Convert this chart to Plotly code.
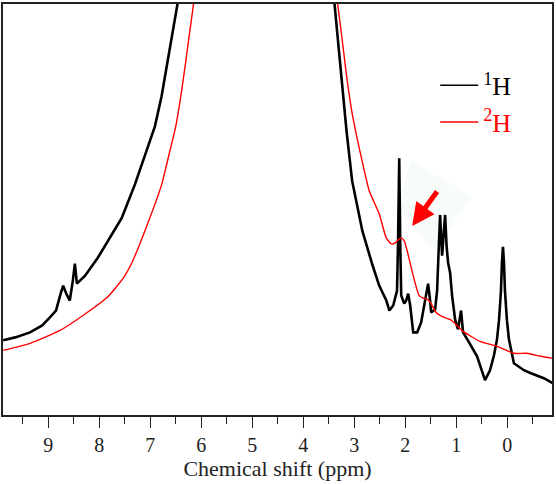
import plotly.graph_objects as go

# ---- data (chemical shift in ppm, intensity in arbitrary units) ----
h1_ppm = [9.886, 9.65, 9.36, 9.12, 8.97, 8.85, 8.77, 8.71, 8.65, 8.58, 8.52, 8.48, 8.44,
          8.28, 8.03, 7.83, 7.56, 7.30, 7.07, 6.91, 6.78, 6.66, 6.54, 6.46, 6.38,
          5.0, 4.0, 3.49, 3.39, 3.25, 3.15, 3.04, 2.84, 2.65, 2.51, 2.37, 2.31, 2.235,
          2.18, 2.16, 2.14, 2.117, 2.095, 2.078, 2.019, 1.980, 1.941, 1.902, 1.843,
          1.765, 1.687, 1.608, 1.550, 1.511, 1.491, 1.413, 1.374, 1.344, 1.315, 1.276,
          1.217, 1.188, 1.158, 1.119, 1.080, 1.021, 0.963, 0.904, 0.865, 0.747, 0.591,
          0.434, 0.336, 0.258, 0.199, 0.160, 0.121, 0.102, 0.082, 0.062, 0.043, 0.004,
          -0.035, -0.133, -0.329, -0.466, -0.720, -0.896]
h1_int = [75, 78, 83, 90, 98, 105, 120, 130, 122, 115, 135, 152, 132,
          140, 158, 175, 198, 232, 265, 290, 320, 355, 390, 415, 445,
          900, 900, 460, 415, 335, 285, 235, 185, 152, 130, 115, 105, 110,
          122, 125, 175, 258, 165, 120, 112, 115, 122, 110, 83,
          83, 93, 115, 132, 115, 103, 106, 125, 165, 201, 160,
          201, 170, 153, 143, 120, 96, 86, 105, 83, 73, 59,
          35, 45, 60, 76, 95, 125, 153, 169, 153, 125, 95,
          76, 52, 45, 42, 37, 32]

h2_ppm = [9.886, 9.358, 8.771, 8.321, 7.851, 7.538, 7.362, 7.010, 6.775, 6.618, 6.501,
          6.403, 6.305, 6.227, 6.168, 6.090, 5.0, 4.0, 3.428, 3.331, 3.135, 3.037, 2.900,
          2.704, 2.509, 2.372, 2.274, 2.196, 2.137, 2.078, 2.019, 1.961, 1.843, 1.726,
          1.628, 1.550, 1.471, 1.393, 1.237, 1.119, 0.982, 0.865, 0.532, 0.199, -0.133,
          -0.388, -0.662, -0.896]
h2_int = [65, 72, 85, 100, 118, 137, 153, 198, 232, 265, 290,
          320, 355, 385, 407, 440, 900, 900, 440, 415, 335, 302, 268,
          225, 202, 178, 172, 173, 176, 178, 175, 165, 140, 120,
          117, 116, 110, 103, 98, 96, 90, 84, 74, 69, 62,
          62, 59, 57]

tick_vals = [9, 8, 7, 6, 5, 4, 3, 2, 1, 0]
tick_text = ["9", "8", "7", "6", "5", "4", "3", "2", "1", "0"]

# arrow (data coordinates): tail -> head
arrow_tail = (1.354, 226)
arrow_head = (1.863, 190)

serif = "Liberation Serif, Times New Roman, serif"

fig = go.Figure()
fig.add_trace(go.Scatter(x=h1_ppm, y=h1_int, mode="lines", showlegend=False,
                         line=dict(color="black", width=2.6)))
fig.add_trace(go.Scatter(x=h2_ppm, y=h2_int, mode="lines", showlegend=False,
                         line=dict(color="red", width=1.4, shape="spline", smoothing=0.5)))
# legend entries
fig.add_trace(go.Scatter(x=[None], y=[None], mode="lines",
                         name="<span style='color:black'><sup>1</sup>H</span>",
                         line=dict(color="black", width=1.5)))
fig.add_trace(go.Scatter(x=[None], y=[None], mode="lines",
                         name="<span style='color:red'><sup>2</sup>H</span>",
                         line=dict(color="red", width=1.5)))

# very faint highlight behind arrow
def pp(px, py):
    return ((px - 3) / 550, (415 - py) / 413)
pts = [pp(412, 159), pp(473, 196), pp(434, 250), pp(398, 205)]
path = "M " + " L ".join(f"{x:.4f},{y:.4f}" for x, y in pts) + " Z"
fig.add_shape(type="path", path=path, xref="paper", yref="paper",
              fillcolor="#f8fcf8", line=dict(width=0), layer="below")

fig.add_annotation(x=arrow_head[0], y=arrow_head[1], ax=arrow_tail[0], ay=arrow_tail[1],
                   xref="x", yref="y", axref="x", ayref="y", text="",
                   showarrow=True, arrowhead=2, arrowsize=0.9, arrowwidth=5,
                   arrowcolor="red")

fig.update_layout(
    width=556, height=485,
    margin=dict(l=3, r=3, t=2, b=70),
    paper_bgcolor="white", plot_bgcolor="white",
    font=dict(family=serif, color="#222"),
    showlegend=True,
    legend=dict(x=0.7873, y=0.757, xanchor="left", yanchor="middle",
                bgcolor="rgba(0,0,0,0)", font=dict(size=26, family=serif),
                tracegroupgap=0, itemwidth=38),
    xaxis=dict(range=[9.89, -0.88], tickmode="array", tickvals=tick_vals,
               ticktext=tick_text, ticks="outside", ticklen=11, tickwidth=1.3,
               tickcolor="#222", tickfont=dict(size=20, family=serif),
               minor=dict(dtick=0.5, tick0=0.5, ticks="outside", ticklen=7,
                          tickwidth=1.3, tickcolor="#222"),
               showline=True, mirror=True, linecolor="#222", linewidth=1.5,
               showgrid=False, zeroline=False,
               title=dict(text="Chemical shift (ppm)", font=dict(size=22, family=serif),
                          standoff=5)),
    yaxis=dict(range=[0, 413], showticklabels=False, ticks="", showline=True,
               mirror=True, linecolor="#222", linewidth=1.5, showgrid=False,
               zeroline=False),
)

fig.write_html("out.html")
